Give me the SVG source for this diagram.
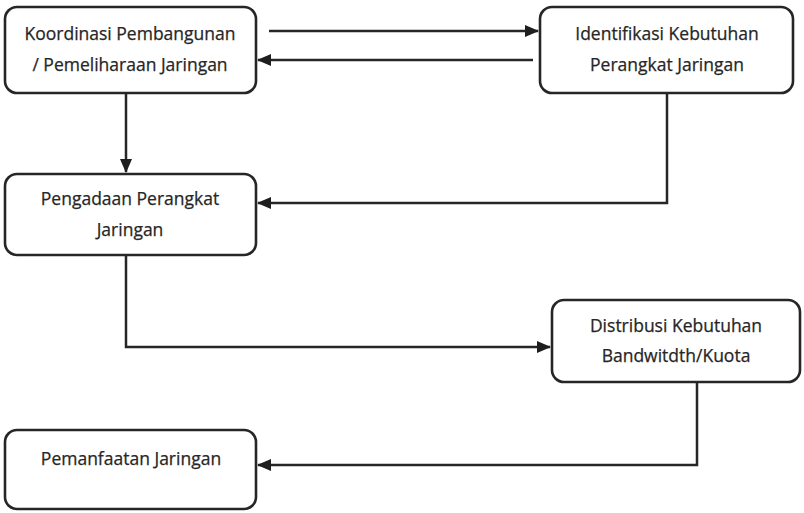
<svg xmlns="http://www.w3.org/2000/svg" width="804" height="513" viewBox="0 0 804 513">
<defs>
<marker id="ah" markerWidth="14" markerHeight="12" refX="13" refY="6" orient="auto" markerUnits="userSpaceOnUse" viewBox="0 0 14 12">
<path d="M0,0 L14,6 L0,12 z" fill="#1e1e1e"/>
</marker>
</defs>
<style>
.box{fill:#fff;stroke:#262626;stroke-width:2.6}
.t{font-family:"Open Sans","Liberation Sans",sans-serif;font-size:17.5px;fill:#262626;text-anchor:middle;stroke:#262626;stroke-width:0.25}
.c{fill:none;stroke:#262626;stroke-width:2.5}
</style>
<rect width="804" height="513" fill="#fff"/>
<g id="n1"><rect class="box" x="5" y="7" width="251" height="86" rx="12"/>
<text class="t" x="130" y="40">Koordinasi Pembangunan</text>
<text class="t" x="130" y="71">/ Pemeliharaan Jaringan</text></g>
<g id="n2"><rect class="box" x="540" y="7" width="253" height="86" rx="12"/>
<text class="t" x="667" y="40">Identifikasi Kebutuhan</text>
<text class="t" x="667" y="71">Perangkat Jaringan</text></g>
<g id="n3"><rect class="box" x="5" y="174" width="251" height="81" rx="12"/>
<text class="t" x="130" y="205">Pengadaan Perangkat</text>
<text class="t" x="130" y="236">Jaringan</text></g>
<g id="n4"><rect class="box" x="552" y="300" width="248" height="82" rx="12"/>
<text class="t" x="676" y="332">Distribusi Kebutuhan</text>
<text class="t" x="676" y="362">Bandwitdth/Kuota</text></g>
<g id="n5"><rect class="box" x="5" y="430" width="251" height="79" rx="12"/>
<text class="t" x="131" y="465">Pemanfaatan Jaringan</text></g>
<g id="connectors">
<path class="c" d="M269,31 H538" marker-end="url(#ah)"/>
<path class="c" d="M533,60 H258" marker-end="url(#ah)"/>
<path class="c" d="M126,93 V172" marker-end="url(#ah)"/>
<path class="c" d="M667,93 V203 H258" marker-end="url(#ah)"/>
<path class="c" d="M126,255 V347 H550" marker-end="url(#ah)"/>
<path class="c" d="M697,382 V465 H258" marker-end="url(#ah)"/>
</g>
</svg>
